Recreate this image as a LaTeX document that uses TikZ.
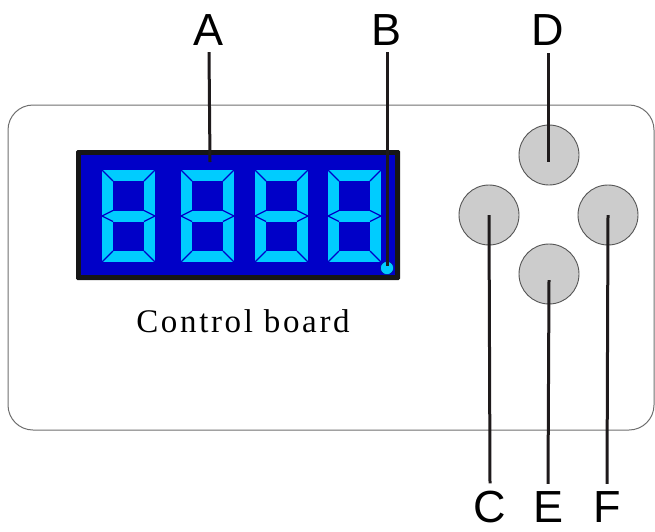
\documentclass[tikz,border=0pt]{standalone}
\usepackage{fontspec}
\setmainfont{Liberation Serif}
\newfontfamily\labelfont{Liberation Sans}
\newfontfamily\boardfont[LetterSpace=8]{Liberation Serif}
\definecolor{lcdblue}{RGB}{0,0,200}
\definecolor{segcyan}{RGB}{0,204,255}
\definecolor{frameblk}{RGB}{22,22,22}
\definecolor{leadclr}{RGB}{30,26,27}
\definecolor{btnfill}{RGB}{204,204,204}
\definecolor{btnedge}{RGB}{85,85,85}
\definecolor{caseedge}{RGB}{110,110,110}
\tikzset{
  letter/.style={font=\labelfont\fontsize{45}{45}\selectfont, inner sep=0pt, anchor=base, text=black},
  leader/.style={draw=leadclr, line width=3pt},
  button/.style={circle, draw=btnedge, line width=0.9pt, fill=btnfill, minimum size=60pt, inner sep=0pt},
  segsep/.style={draw=lcdblue, line width=1.2pt},
}
\begin{document}
\begin{tikzpicture}[x=1pt,y=-1pt]
\useasboundingbox (0,0) rectangle (655,531);
% case
\draw[caseedge, line width=1pt, rounded corners=25pt] (8,105) rectangle (654,430);
% display
\fill[frameblk, rounded corners=1.5pt] (76,150) rectangle (400,280);
\fill[lcdblue] (81,155) rectangle (395,275);
\foreach \dx in {102,181,255,328}{
  \begin{scope}[shift={(\dx,170)}]
    \fill[segcyan] (0,0) rectangle (53,92);
    \fill[lcdblue] (11,11) rectangle (42,40.5);
    \fill[lcdblue] (11,51.5) rectangle (42,81);
    \draw[segsep] (0,0) -- (11,11);
    \draw[segsep] (53,0) -- (42,11);
    \draw[segsep] (0,92) -- (11,81);
    \draw[segsep] (53,92) -- (42,81);
    \draw[segsep] (11,40.5) -- (0,46) -- (11,51.5);
    \draw[segsep] (42,40.5) -- (53,46) -- (42,51.5);
  \end{scope}
}
\node (dotB) [circle, fill=segcyan, draw=lcdblue!60!black, line width=0.4pt, minimum size=13pt, inner sep=0pt] at (387,268) {};
% text
\node (board) [font=\boardfont\fontsize{33}{33}\selectfont, anchor=base, inner sep=0pt] at (243,332) {Control board};
% buttons
\node (btnD) [button] at (549,155) {};
\node (btnC) [button] at (489,215) {};
\node (btnF) [button] at (608,215) {};
\node (btnE) [button] at (549,274) {};
% labels
\node (labA) [letter] at (209,45) {A};
\node (labB) [letter] at (387,45) {B};
\node (labD) [letter] at (548,45) {D};
\node (labC) [letter] at (490,522) {C};
\node (labE) [letter] at (548,522) {E};
\node (labF) [letter] at (607,522) {F};
\coordinate (aEnd) at (210,162);
\coordinate (dEnd) at (548,162);
% leaders
\draw[leader] ([yshift=-7pt]labA.south) -- (aEnd);
\draw[leader] ([yshift=-7pt]labB.south) -- ([yshift=2pt]dotB.center);
\draw[leader] ([yshift=-8pt]labD.south) -- (dEnd);
\draw[leader] (btnC.center) -- ([yshift=7pt]labC.north);
\draw[leader] ([yshift=-6pt]btnE.center) -- ([yshift=7pt]labE.north);
\draw[leader] (btnF.center) -- ([yshift=7pt]labF.north);
\end{tikzpicture}
\end{document}
